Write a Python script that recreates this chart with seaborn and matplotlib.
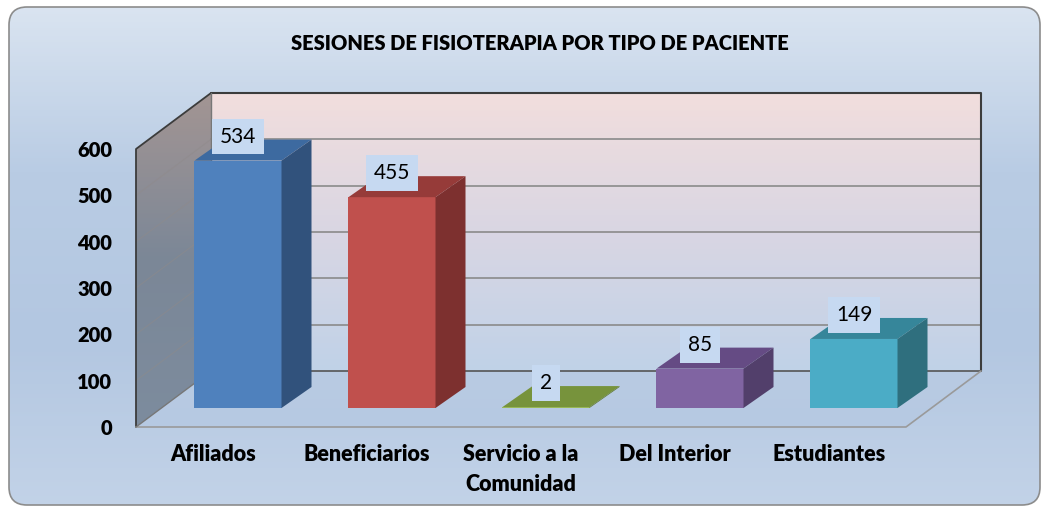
import numpy as np
import matplotlib
matplotlib.use("Agg")
import matplotlib.pyplot as plt
import matplotlib.transforms as mtransforms
from matplotlib.patches import Polygon, FancyBboxPatch
from matplotlib.colors import LinearSegmentedColormap
import seaborn as sns
import pandas as pd

# ---------------- data ----------------
categories = ["Afiliados", "Beneficiarios", "Servicio a la\nComunidad", "Del Interior", "Estudiantes"]
values = [534, 455, 2, 85, 149]
y_ticks = [0, 100, 200, 300, 400, 500, 600]
title = "SESIONES DE FISIOTERAPIA POR TIPO DE PACIENTE"

front_colors = ["#4F81BD", "#C0504D", "#9BBB59", "#8064A2", "#4BACC6"]
top_colors = ["#3D6AA0", "#963B39", "#77933C", "#654B84", "#36869A"]
side_colors = ["#31527C", "#7D302F", "#617A30", "#523F6B", "#2F6F7E"]

sns.set_theme(style="white")
plt.rcParams['font.family'] = ['Lato', 'DejaVu Sans']

DPI = 100
W, H = 1048, 512
fig = plt.figure(figsize=(W / DPI, H / DPI), dpi=DPI)
fig.patch.set_facecolor("white")

# ---------------- background (pixel coordinates, y up) ----------------
bg = fig.add_axes([0, 0, 1, 1], zorder=-10)
bg.set_xlim(0, W)
bg.set_ylim(0, H)
bg.set_axis_off()

grad = np.linspace(0, 1, 256).reshape(-1, 1)
cmap_bg = LinearSegmentedColormap.from_list("bg", ["#dbe5f1", "#b9cce4", "#b3c7e1", "#c3d3e8"])
frame = FancyBboxPatch((9, 7), 1031, 498, boxstyle="round,pad=0,rounding_size=18",
                       fc="none", ec="#8c8c8c", lw=1.2, transform=bg.transData, zorder=20)
im = bg.imshow(grad, aspect="auto", cmap=cmap_bg, extent=[0, W, 0, H], origin="upper", zorder=0)
bg.add_patch(frame)
im.set_clip_path(frame)

# ---------------- main axes (front plane) ----------------
L, R = 136, 906
B_px, T_px = 427, 149
ax = fig.add_axes([L / W, (H - B_px) / H, (R - L) / W, (B_px - T_px) / H])
ax.patch.set_alpha(0)

df = pd.DataFrame({"cat": categories, "val": values})
bar_w = 0.565
sns.barplot(data=df, x="cat", y="val", hue="cat", palette=front_colors, width=bar_w,
            legend=False, ax=ax, saturation=1, zorder=5)
ax.set_xlim(-0.5, 4.5)
ax.set_ylim(0, 600)
ax.set_xlabel("")
ax.set_ylabel("")
for s in ax.spines.values():
    s.set_visible(False)
ax.set_yticks(y_ticks)
ax.set_yticklabels([str(t) for t in y_ticks], fontweight="heavy", fontsize=14.5, color="black")
ax.set_xticks(range(len(categories)))
ax.set_xticklabels(categories, fontweight="heavy", fontsize=15.5, color="black", linespacing=1.55)
ax.tick_params(axis="y", length=0, pad=17)
ax.tick_params(axis="x", length=0, pad=12)
ax.grid(False)

def disp(x, y):
    return ax.transData.transform((x, y))

# depth vectors (pixels, y up)
DX, DY = 75, 56          # full floor depth
FX, FY = 25, 19          # bar front offset
BX, BY = 30, 21          # bar depth

p_fl0 = disp(-0.5, 0)
p_fr0 = disp(4.5, 0)
p_fl6 = disp(-0.5, 600)
p_fr6 = disp(4.5, 600)
d = np.array([DX, DY])

def grad_poly(pts, colors, z):
    poly = Polygon(pts, closed=True, fc="none", ec="none", transform=bg.transData)
    bg.add_patch(poly)
    pts = np.array(pts)
    x0, x1 = pts[:, 0].min(), pts[:, 0].max()
    y0, y1 = pts[:, 1].min(), pts[:, 1].max()
    cm = LinearSegmentedColormap.from_list("g", colors)
    g = bg.imshow(grad, aspect="auto", cmap=cm, extent=[x0, x1, y0, y1], origin="upper", zorder=z)
    g.set_clip_path(poly)
    bg.set_xlim(0, W)
    bg.set_ylim(0, H)

# floor
floor = [p_fl0, p_fr0, p_fr0 + d, p_fl0 + d]
grad_poly(floor, ["#b9cbe3", "#b6c9e2"], 1)
# back wall
back = [p_fl0 + d, p_fr0 + d, p_fr6 + d, p_fl6 + d]
grad_poly(back, ["#f2dedd", "#d9d6e3", "#c0d2e8"], 1)
# left wall
left = [p_fl0, p_fl0 + d, p_fl6 + d, p_fl6]
grad_poly(left, ["#a39593", "#7b8797", "#7d8c9e"], 1)

# gridlines
for t in y_ticks[1:-1]:
    a = disp(-0.5, t)
    b = disp(4.5, t)
    bg.plot([a[0] + DX, b[0] + DX], [a[1] + DY, b[1] + DY], color="#8a8a8a", lw=1.2, zorder=3)
    bg.plot([a[0], a[0] + DX], [a[1], a[1] + DY], color="#8f8a8a", lw=0.8, alpha=0.5, zorder=3)
# wall edges
dark = "#3c3c3c"
bg.plot([p_fl6[0] + DX, p_fr6[0] + DX, p_fr0[0] + DX], [p_fl6[1] + DY, p_fr6[1] + DY, p_fr0[1] + DY],
        color=dark, lw=1.5, zorder=4)
bg.plot([p_fl0[0], p_fl6[0], p_fl6[0] + DX], [p_fl0[1], p_fl6[1], p_fl6[1] + DY], color=dark, lw=1.3, zorder=4)
bg.plot([p_fl0[0] + DX, p_fl6[0] + DX], [p_fl0[1] + DY, p_fl6[1] + DY], color="#777777", lw=1.0, zorder=4)
bg.plot([p_fl0[0] + DX, p_fr0[0] + DX], [p_fl0[1] + DY, p_fr0[1] + DY], color="#555555", lw=1.2, zorder=4)
bg.plot([p_fl0[0], p_fr0[0], p_fr0[0] + DX], [p_fl0[1], p_fr0[1], p_fr0[1] + DY], color="#9a9a9a", lw=1.2, zorder=4)
bg.plot([p_fl0[0], p_fl0[0] + DX], [p_fl0[1], p_fl0[1] + DY], color="#777777", lw=1.0, zorder=4)

# ---------------- bars: shift fronts, add top & side faces ----------------
shift = mtransforms.Affine2D().translate(FX, FY)
bars = list(ax.patches)
for p in bars:
    p.set_transform(ax.transData + shift)
    p.set_clip_on(False)
    p.set_edgecolor("none")

ident = mtransforms.IdentityTransform()
f = np.array([FX, FY])
b = np.array([BX, BY])
for i, v in enumerate(values):
    A = disp(i - bar_w / 2, v) + f
    Bp = disp(i + bar_w / 2, v) + f
    C = disp(i + bar_w / 2, 0) + f
    top = Polygon([A, Bp, Bp + b, A + b], closed=True, fc=top_colors[i], ec="none",
                  transform=ident, clip_on=False, zorder=5)
    side = Polygon([Bp, C, C + b, Bp + b], closed=True, fc=side_colors[i], ec="none",
                   transform=ident, clip_on=False, zorder=5)
    ax.add_patch(top)
    ax.add_patch(side)
    ax.annotate(str(v), xy=(i, v), xytext=(FX, FY + 24), textcoords="offset pixels",
                ha="center", va="center", fontsize=15, color="black", zorder=10,
                annotation_clip=False,
                bbox=dict(boxstyle="square,pad=0.38", fc="#c6d9f1", ec="none"))

fig.text(540 / W, 1 - 43 / H, title, ha="center", va="center", fontweight="heavy", fontsize=14.5, color="black")

fig.savefig("out.png", dpi=DPI)
